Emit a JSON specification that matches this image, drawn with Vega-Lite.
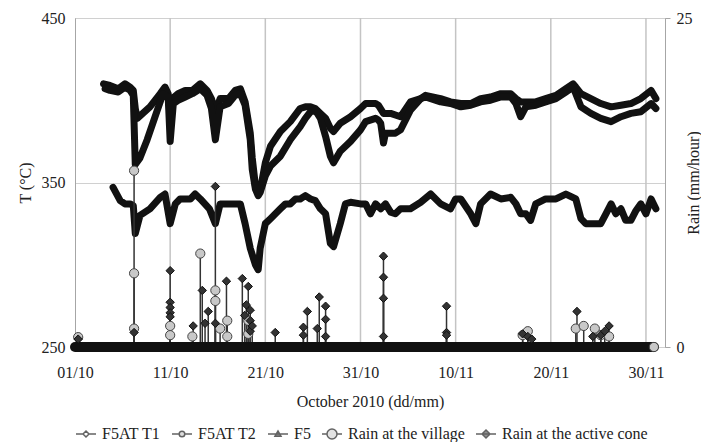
{
  "$schema": "https://vega.github.io/schema/vega-lite/v6.json",
  "width": 590,
  "height": 329,
  "padding": {"left": 17, "top": 10, "right": 0, "bottom": 0},
  "background": "white",
  "config": {
    "font": "Liberation Serif",
    "view": {"stroke": "#a6a6a6", "strokeWidth": 1},
    "axis": {
      "labelFont": "Liberation Serif", "labelFontSize": 16, "labelColor": "#222",
      "titleFont": "Liberation Serif", "titleFontSize": 16, "titleFontWeight": "normal", "titleColor": "#222",
      "gridColor": "#d0d0d0", "gridOpacity": 1, "domainColor": "#a6a6a6", "tickColor": "#a6a6a6"
    },
    "axisX": {"grid": false, "labelFlush": false},
    "legend": {
      "labelFont": "Liberation Serif", "labelFontSize": 16, "labelColor": "#222",
      "symbolSize": 400, "columnPadding": 8, "labelOffset": 5, "offset": 14
    }
  },
  "datasets": {
    "gridx": [{"tk":"2010-10-11T00:00","lo":250,"hi":450},{"tk":"2010-10-21T00:00","lo":250,"hi":450},{"tk":"2010-10-31T00:00","lo":250,"hi":450},{"tk":"2010-11-10T00:00","lo":250,"hi":450},{"tk":"2010-11-20T00:00","lo":250,"hi":450},{"tk":"2010-11-30T00:00","lo":250,"hi":450}],
    "temp": [
      {"d":"2010-10-04T00:00","s":"F5AT T1","t":410},{"d":"2010-10-04T16:00","s":"F5AT T1","t":409},{"d":"2010-10-05T13:00","s":"F5AT T1","t":407},{"d":"2010-10-06T06:00","s":"F5AT T1","t":410},{"d":"2010-10-06T19:00","s":"F5AT T1","t":408},{"d":"2010-10-07T03:00","s":"F5AT T1","t":406},{"d":"2010-10-07T08:00","s":"F5AT T1","t":395},{"d":"2010-10-07T13:00","s":"F5AT T1","t":389},{"d":"2010-10-08T21:00","s":"F5AT T1","t":396},{"d":"2010-10-09T23:00","s":"F5AT T1","t":404},{"d":"2010-10-10T11:00","s":"F5AT T1","t":408},{"d":"2010-10-10T19:00","s":"F5AT T1","t":404},{"d":"2010-10-11T00:00","s":"F5AT T1","t":389},{"d":"2010-10-11T05:00","s":"F5AT T1","t":401},{"d":"2010-10-11T20:00","s":"F5AT T1","t":404},{"d":"2010-10-12T14:00","s":"F5AT T1","t":406},{"d":"2010-10-13T08:00","s":"F5AT T1","t":406},{"d":"2010-10-14T04:00","s":"F5AT T1","t":410},{"d":"2010-10-14T21:00","s":"F5AT T1","t":406},{"d":"2010-10-15T08:00","s":"F5AT T1","t":401},{"d":"2010-10-15T18:00","s":"F5AT T1","t":393},{"d":"2010-10-16T06:00","s":"F5AT T1","t":401},{"d":"2010-10-17T03:00","s":"F5AT T1","t":401},{"d":"2010-10-17T20:00","s":"F5AT T1","t":406},{"d":"2010-10-18T09:00","s":"F5AT T1","t":407},{"d":"2010-10-18T21:00","s":"F5AT T1","t":399},{"d":"2010-10-19T10:00","s":"F5AT T1","t":380},{"d":"2010-10-19T15:00","s":"F5AT T1","t":365},{"d":"2010-10-19T23:00","s":"F5AT T1","t":348},{"d":"2010-10-20T06:00","s":"F5AT T1","t":343},{"d":"2010-10-20T11:00","s":"F5AT T1","t":345},{"d":"2010-10-21T00:00","s":"F5AT T1","t":362},{"d":"2010-10-21T13:00","s":"F5AT T1","t":372},{"d":"2010-10-22T14:00","s":"F5AT T1","t":381},{"d":"2010-10-23T15:00","s":"F5AT T1","t":387},{"d":"2010-10-24T16:00","s":"F5AT T1","t":395},{"d":"2010-10-25T05:00","s":"F5AT T1","t":396},{"d":"2010-10-25T18:00","s":"F5AT T1","t":396},{"d":"2010-10-26T06:00","s":"F5AT T1","t":395},{"d":"2010-10-26T19:00","s":"F5AT T1","t":392},{"d":"2010-10-27T08:00","s":"F5AT T1","t":389},{"d":"2010-10-27T20:00","s":"F5AT T1","t":383},{"d":"2010-10-28T04:00","s":"F5AT T1","t":381},{"d":"2010-10-28T21:00","s":"F5AT T1","t":386},{"d":"2010-10-29T23:00","s":"F5AT T1","t":390},{"d":"2010-10-31T00:00","s":"F5AT T1","t":395},{"d":"2010-10-31T13:00","s":"F5AT T1","t":398},{"d":"2010-11-01T14:00","s":"F5AT T1","t":398},{"d":"2010-11-01T21:00","s":"F5AT T1","t":397},{"d":"2010-11-02T10:00","s":"F5AT T1","t":392},{"d":"2010-11-03T04:00","s":"F5AT T1","t":392},{"d":"2010-11-04T05:00","s":"F5AT T1","t":390},{"d":"2010-11-05T06:00","s":"F5AT T1","t":399},{"d":"2010-11-06T08:00","s":"F5AT T1","t":401},{"d":"2010-11-06T20:00","s":"F5AT T1","t":403},{"d":"2010-11-08T10:00","s":"F5AT T1","t":401},{"d":"2010-11-09T11:00","s":"F5AT T1","t":399},{"d":"2010-11-10T13:00","s":"F5AT T1","t":398},{"d":"2010-11-11T14:00","s":"F5AT T1","t":398},{"d":"2010-11-12T15:00","s":"F5AT T1","t":401},{"d":"2010-11-13T16:00","s":"F5AT T1","t":402},{"d":"2010-11-14T18:00","s":"F5AT T1","t":404},{"d":"2010-11-15T19:00","s":"F5AT T1","t":404},{"d":"2010-11-16T08:00","s":"F5AT T1","t":401},{"d":"2010-11-16T20:00","s":"F5AT T1","t":399},{"d":"2010-11-17T09:00","s":"F5AT T1","t":399},{"d":"2010-11-18T10:00","s":"F5AT T1","t":399},{"d":"2010-11-19T11:00","s":"F5AT T1","t":401},{"d":"2010-11-20T13:00","s":"F5AT T1","t":403},{"d":"2010-11-21T14:00","s":"F5AT T1","t":407},{"d":"2010-11-22T08:00","s":"F5AT T1","t":410},{"d":"2010-11-22T15:00","s":"F5AT T1","t":408},{"d":"2010-11-23T04:00","s":"F5AT T1","t":404},{"d":"2010-11-24T05:00","s":"F5AT T1","t":401},{"d":"2010-11-25T06:00","s":"F5AT T1","t":398},{"d":"2010-11-26T08:00","s":"F5AT T1","t":396},{"d":"2010-11-27T09:00","s":"F5AT T1","t":397},{"d":"2010-11-28T10:00","s":"F5AT T1","t":398},{"d":"2010-11-29T11:00","s":"F5AT T1","t":401},{"d":"2010-11-30T13:00","s":"F5AT T1","t":406},{"d":"2010-12-01T01:00","s":"F5AT T1","t":401},
      {"d":"2010-10-04T04:00","s":"F5AT T2","t":407},{"d":"2010-10-04T16:00","s":"F5AT T2","t":406},{"d":"2010-10-05T13:00","s":"F5AT T2","t":405},{"d":"2010-10-06T06:00","s":"F5AT T2","t":408},{"d":"2010-10-06T19:00","s":"F5AT T2","t":406},{"d":"2010-10-07T03:00","s":"F5AT T2","t":403},{"d":"2010-10-07T08:00","s":"F5AT T2","t":361},{"d":"2010-10-07T20:00","s":"F5AT T2","t":365},{"d":"2010-10-08T14:00","s":"F5AT T2","t":376},{"d":"2010-10-09T10:00","s":"F5AT T2","t":390},{"d":"2010-10-10T06:00","s":"F5AT T2","t":404},{"d":"2010-10-10T19:00","s":"F5AT T2","t":402},{"d":"2010-10-11T00:00","s":"F5AT T2","t":375},{"d":"2010-10-11T08:00","s":"F5AT T2","t":398},{"d":"2010-10-11T20:00","s":"F5AT T2","t":400},{"d":"2010-10-12T14:00","s":"F5AT T2","t":402},{"d":"2010-10-13T08:00","s":"F5AT T2","t":404},{"d":"2010-10-14T04:00","s":"F5AT T2","t":407},{"d":"2010-10-14T21:00","s":"F5AT T2","t":403},{"d":"2010-10-15T08:00","s":"F5AT T2","t":395},{"d":"2010-10-15T18:00","s":"F5AT T2","t":376},{"d":"2010-10-16T06:00","s":"F5AT T2","t":396},{"d":"2010-10-17T03:00","s":"F5AT T2","t":398},{"d":"2010-10-17T20:00","s":"F5AT T2","t":403},{"d":"2010-10-18T09:00","s":"F5AT T2","t":404},{"d":"2010-10-18T21:00","s":"F5AT T2","t":397},{"d":"2010-10-19T10:00","s":"F5AT T2","t":376},{"d":"2010-10-19T15:00","s":"F5AT T2","t":358},{"d":"2010-10-19T23:00","s":"F5AT T2","t":346},{"d":"2010-10-20T06:00","s":"F5AT T2","t":342},{"d":"2010-10-20T11:00","s":"F5AT T2","t":344},{"d":"2010-10-21T00:00","s":"F5AT T2","t":354},{"d":"2010-10-21T13:00","s":"F5AT T2","t":360},{"d":"2010-10-22T14:00","s":"F5AT T2","t":366},{"d":"2010-10-23T15:00","s":"F5AT T2","t":376},{"d":"2010-10-24T16:00","s":"F5AT T2","t":384},{"d":"2010-10-25T05:00","s":"F5AT T2","t":389},{"d":"2010-10-25T18:00","s":"F5AT T2","t":393},{"d":"2010-10-26T06:00","s":"F5AT T2","t":394},{"d":"2010-10-26T19:00","s":"F5AT T2","t":389},{"d":"2010-10-27T08:00","s":"F5AT T2","t":378},{"d":"2010-10-27T20:00","s":"F5AT T2","t":366},{"d":"2010-10-28T04:00","s":"F5AT T2","t":362},{"d":"2010-10-28T21:00","s":"F5AT T2","t":369},{"d":"2010-10-29T23:00","s":"F5AT T2","t":375},{"d":"2010-10-31T00:00","s":"F5AT T2","t":382},{"d":"2010-10-31T13:00","s":"F5AT T2","t":387},{"d":"2010-11-01T14:00","s":"F5AT T2","t":389},{"d":"2010-11-01T21:00","s":"F5AT T2","t":388},{"d":"2010-11-02T03:00","s":"F5AT T2","t":386},{"d":"2010-11-02T10:00","s":"F5AT T2","t":374},{"d":"2010-11-02T15:00","s":"F5AT T2","t":380},{"d":"2010-11-03T04:00","s":"F5AT T2","t":380},{"d":"2010-11-03T16:00","s":"F5AT T2","t":380},{"d":"2010-11-04T05:00","s":"F5AT T2","t":382},{"d":"2010-11-05T06:00","s":"F5AT T2","t":394},{"d":"2010-11-06T08:00","s":"F5AT T2","t":401},{"d":"2010-11-06T20:00","s":"F5AT T2","t":402},{"d":"2010-11-08T10:00","s":"F5AT T2","t":399},{"d":"2010-11-09T11:00","s":"F5AT T2","t":398},{"d":"2010-11-10T13:00","s":"F5AT T2","t":396},{"d":"2010-11-11T14:00","s":"F5AT T2","t":397},{"d":"2010-11-12T15:00","s":"F5AT T2","t":399},{"d":"2010-11-13T16:00","s":"F5AT T2","t":400},{"d":"2010-11-14T18:00","s":"F5AT T2","t":402},{"d":"2010-11-15T19:00","s":"F5AT T2","t":402},{"d":"2010-11-16T08:00","s":"F5AT T2","t":398},{"d":"2010-11-16T20:00","s":"F5AT T2","t":390},{"d":"2010-11-17T09:00","s":"F5AT T2","t":396},{"d":"2010-11-18T10:00","s":"F5AT T2","t":397},{"d":"2010-11-19T11:00","s":"F5AT T2","t":399},{"d":"2010-11-20T13:00","s":"F5AT T2","t":401},{"d":"2010-11-21T14:00","s":"F5AT T2","t":405},{"d":"2010-11-22T08:00","s":"F5AT T2","t":408},{"d":"2010-11-22T15:00","s":"F5AT T2","t":404},{"d":"2010-11-23T04:00","s":"F5AT T2","t":396},{"d":"2010-11-24T05:00","s":"F5AT T2","t":392},{"d":"2010-11-25T06:00","s":"F5AT T2","t":389},{"d":"2010-11-26T08:00","s":"F5AT T2","t":387},{"d":"2010-11-27T09:00","s":"F5AT T2","t":390},{"d":"2010-11-28T10:00","s":"F5AT T2","t":392},{"d":"2010-11-29T11:00","s":"F5AT T2","t":393},{"d":"2010-11-30T13:00","s":"F5AT T2","t":398},{"d":"2010-12-01T01:00","s":"F5AT T2","t":395},
      {"d":"2010-10-05T00:00","s":"F5","t":347},{"d":"2010-10-05T18:00","s":"F5","t":339},{"d":"2010-10-06T06:00","s":"F5","t":337},{"d":"2010-10-06T19:00","s":"F5","t":337},{"d":"2010-10-07T03:00","s":"F5","t":336},{"d":"2010-10-07T08:00","s":"F5","t":319},{"d":"2010-10-07T20:00","s":"F5","t":330},{"d":"2010-10-08T21:00","s":"F5","t":334},{"d":"2010-10-09T23:00","s":"F5","t":341},{"d":"2010-10-10T11:00","s":"F5","t":343},{"d":"2010-10-11T00:00","s":"F5","t":325},{"d":"2010-10-11T13:00","s":"F5","t":337},{"d":"2010-10-12T01:00","s":"F5","t":340},{"d":"2010-10-13T03:00","s":"F5","t":340},{"d":"2010-10-13T15:00","s":"F5","t":343},{"d":"2010-10-14T04:00","s":"F5","t":340},{"d":"2010-10-15T03:00","s":"F5","t":334},{"d":"2010-10-15T18:00","s":"F5","t":325},{"d":"2010-10-16T06:00","s":"F5","t":337},{"d":"2010-10-17T08:00","s":"F5","t":337},{"d":"2010-10-18T09:00","s":"F5","t":337},{"d":"2010-10-18T21:00","s":"F5","t":325},{"d":"2010-10-19T10:00","s":"F5","t":310},{"d":"2010-10-19T23:00","s":"F5","t":300},{"d":"2010-10-20T06:00","s":"F5","t":297},{"d":"2010-10-20T11:00","s":"F5","t":310},{"d":"2010-10-21T00:00","s":"F5","t":325},{"d":"2010-10-21T13:00","s":"F5","t":328},{"d":"2010-10-22T14:00","s":"F5","t":334},{"d":"2010-10-23T03:00","s":"F5","t":337},{"d":"2010-10-23T15:00","s":"F5","t":337},{"d":"2010-10-24T04:00","s":"F5","t":340},{"d":"2010-10-24T16:00","s":"F5","t":340},{"d":"2010-10-25T05:00","s":"F5","t":342},{"d":"2010-10-25T18:00","s":"F5","t":340},{"d":"2010-10-26T06:00","s":"F5","t":339},{"d":"2010-10-26T19:00","s":"F5","t":334},{"d":"2010-10-27T08:00","s":"F5","t":331},{"d":"2010-10-27T20:00","s":"F5","t":313},{"d":"2010-10-28T04:00","s":"F5","t":311},{"d":"2010-10-28T21:00","s":"F5","t":325},{"d":"2010-10-29T10:00","s":"F5","t":337},{"d":"2010-10-29T23:00","s":"F5","t":338},{"d":"2010-10-31T00:00","s":"F5","t":337},{"d":"2010-10-31T13:00","s":"F5","t":337},{"d":"2010-11-01T01:00","s":"F5","t":331},{"d":"2010-11-01T14:00","s":"F5","t":337},{"d":"2010-11-02T03:00","s":"F5","t":334},{"d":"2010-11-02T15:00","s":"F5","t":337},{"d":"2010-11-03T04:00","s":"F5","t":332},{"d":"2010-11-03T16:00","s":"F5","t":331},{"d":"2010-11-04T05:00","s":"F5","t":334},{"d":"2010-11-05T06:00","s":"F5","t":334},{"d":"2010-11-06T08:00","s":"F5","t":338},{"d":"2010-11-07T09:00","s":"F5","t":343},{"d":"2010-11-08T10:00","s":"F5","t":337},{"d":"2010-11-09T11:00","s":"F5","t":334},{"d":"2010-11-10T00:00","s":"F5","t":340},{"d":"2010-11-10T13:00","s":"F5","t":340},{"d":"2010-11-11T14:00","s":"F5","t":331},{"d":"2010-11-12T03:00","s":"F5","t":325},{"d":"2010-11-12T15:00","s":"F5","t":337},{"d":"2010-11-13T16:00","s":"F5","t":343},{"d":"2010-11-14T18:00","s":"F5","t":340},{"d":"2010-11-15T19:00","s":"F5","t":341},{"d":"2010-11-16T08:00","s":"F5","t":337},{"d":"2010-11-16T20:00","s":"F5","t":331},{"d":"2010-11-17T09:00","s":"F5","t":331},{"d":"2010-11-17T21:00","s":"F5","t":327},{"d":"2010-11-18T10:00","s":"F5","t":337},{"d":"2010-11-19T11:00","s":"F5","t":340},{"d":"2010-11-20T13:00","s":"F5","t":340},{"d":"2010-11-21T14:00","s":"F5","t":343},{"d":"2010-11-22T15:00","s":"F5","t":340},{"d":"2010-11-23T04:00","s":"F5","t":328},{"d":"2010-11-23T16:00","s":"F5","t":325},{"d":"2010-11-25T06:00","s":"F5","t":325},{"d":"2010-11-25T19:00","s":"F5","t":331},{"d":"2010-11-26T08:00","s":"F5","t":337},{"d":"2010-11-26T20:00","s":"F5","t":331},{"d":"2010-11-27T09:00","s":"F5","t":334},{"d":"2010-11-27T21:00","s":"F5","t":327},{"d":"2010-11-28T10:00","s":"F5","t":327},{"d":"2010-11-28T23:00","s":"F5","t":333},{"d":"2010-11-29T11:00","s":"F5","t":337},{"d":"2010-11-30T00:00","s":"F5","t":331},{"d":"2010-11-30T13:00","s":"F5","t":340},{"d":"2010-12-01T01:00","s":"F5","t":334}
    ],
    "rain": [
      {"d":"2010-10-01T08:00","s":"v","v":0.75},{"d":"2010-10-07T05:00","s":"v","v":13.4},{"d":"2010-10-07T05:00","s":"v","v":5.6},{"d":"2010-10-07T05:00","s":"v","v":1.4},{"d":"2010-10-11T00:00","s":"v","v":1.6},{"d":"2010-10-11T00:00","s":"v","v":0.9},{"d":"2010-10-13T08:00","s":"v","v":0.8},{"d":"2010-10-14T04:00","s":"v","v":7.1},{"d":"2010-10-15T18:00","s":"v","v":4.3},{"d":"2010-10-15T18:00","s":"v","v":3.5},{"d":"2010-10-16T06:00","s":"v","v":1.4},{"d":"2010-10-17T00:00","s":"v","v":2.0},{"d":"2010-10-17T00:00","s":"v","v":0.8},{"d":"2010-10-19T05:00","s":"v","v":2.0},{"d":"2010-10-19T05:00","s":"v","v":1.0},{"d":"2010-11-17T01:00","s":"v","v":0.9},{"d":"2010-11-17T14:00","s":"v","v":1.2},{"d":"2010-11-22T15:00","s":"v","v":1.4},{"d":"2010-11-23T11:00","s":"v","v":1.6},{"d":"2010-11-24T15:00","s":"v","v":1.4},{"d":"2010-11-25T06:00","s":"v","v":0.9},{"d":"2010-11-26T03:00","s":"v","v":0.8},{"d":"2010-11-30T20:00","s":"v","v":0},
      {"d":"2010-10-01T08:00","s":"c","v":0.6},{"d":"2010-10-07T05:00","s":"c","v":1.1},{"d":"2010-10-11T00:00","s":"c","v":5.8},{"d":"2010-10-11T00:00","s":"c","v":3.4},{"d":"2010-10-11T00:00","s":"c","v":3.0},{"d":"2010-10-11T00:00","s":"c","v":2.6},{"d":"2010-10-11T00:00","s":"c","v":2.3},{"d":"2010-10-13T10:00","s":"c","v":1.6},{"d":"2010-10-14T09:00","s":"c","v":4.3},{"d":"2010-10-14T16:00","s":"c","v":1.8},{"d":"2010-10-15T00:00","s":"c","v":2.7},{"d":"2010-10-15T18:00","s":"c","v":12.2},{"d":"2010-10-15T18:00","s":"c","v":1.8},{"d":"2010-10-16T22:00","s":"c","v":5.0},{"d":"2010-10-18T14:00","s":"c","v":5.2},{"d":"2010-10-18T20:00","s":"c","v":2.4},{"d":"2010-10-19T00:00","s":"c","v":3.2},{"d":"2010-10-19T05:00","s":"c","v":4.6},{"d":"2010-10-19T10:00","s":"c","v":2.8},{"d":"2010-10-19T10:00","s":"c","v":2.0},{"d":"2010-10-19T10:00","s":"c","v":1.2},{"d":"2010-10-19T15:00","s":"c","v":1.6},{"d":"2010-10-22T01:00","s":"c","v":1.1},{"d":"2010-10-25T00:00","s":"c","v":1.5},{"d":"2010-10-25T00:00","s":"c","v":0.9},{"d":"2010-10-25T10:00","s":"c","v":2.7},{"d":"2010-10-26T11:00","s":"c","v":1.4},{"d":"2010-10-26T16:00","s":"c","v":3.8},{"d":"2010-10-27T08:00","s":"c","v":3.1},{"d":"2010-10-27T08:00","s":"c","v":2.1},{"d":"2010-10-27T08:00","s":"c","v":0.8},{"d":"2010-11-02T10:00","s":"c","v":6.9},{"d":"2010-11-02T10:00","s":"c","v":5.3},{"d":"2010-11-02T10:00","s":"c","v":3.7},{"d":"2010-11-02T10:00","s":"c","v":0.8},{"d":"2010-11-09T01:00","s":"c","v":3.1},{"d":"2010-11-09T01:00","s":"c","v":1.1},{"d":"2010-11-09T01:00","s":"c","v":0.9},{"d":"2010-11-17T01:00","s":"c","v":1.0},{"d":"2010-11-17T14:00","s":"c","v":0.8},{"d":"2010-11-18T00:00","s":"c","v":0.6},{"d":"2010-11-22T18:00","s":"c","v":2.7},{"d":"2010-11-24T10:00","s":"c","v":0.8},{"d":"2010-11-25T06:00","s":"c","v":0.9},{"d":"2010-11-25T16:00","s":"c","v":1.2},{"d":"2010-11-26T03:00","s":"c","v":1.6}
    ],
    "base": [{"a":"2010-10-01T00:00","b":"2010-11-30T20:00","v":0}]
  },
  "layer": [
    {
      "encoding": {
        "x": {"field": "d", "type": "temporal", "title": "October 2010 (dd/mm)",
          "scale": {"domain": [{"year":2010,"month":10,"date":1},{"year":2010,"month":12,"date":2}]},
          "axis": {"values": [{"year":2010,"month":10,"date":1},{"year":2010,"month":10,"date":11},{"year":2010,"month":10,"date":21},{"year":2010,"month":10,"date":31},{"year":2010,"month":11,"date":10},{"year":2010,"month":11,"date":20},{"year":2010,"month":11,"date":30}],
            "format": "%d/%m", "grid": false, "labelFlush": false, "ticks": false, "domain": false, "labelPadding": 17, "titlePadding": 13}},
        "y": {"field": "t", "type": "quantitative", "title": "T (°C)",
          "scale": {"domain": [250, 450], "nice": false},
          "axis": {"values": [250, 350, 450], "grid": true, "ticks": false, "labelPadding": 10, "titlePadding": 8}}
      },
      "layer": [
        {
          "data": {"name": "gridx"},
          "mark": {"type": "rule", "color": "#c4c4c4", "strokeWidth": 1.5},
          "encoding": {
            "x": {"field": "tk", "type": "temporal", "title": "October 2010 (dd/mm)"},
            "y": {"field": "lo", "type": "quantitative", "title": "T (°C)"},
            "y2": {"field": "hi"}
          }
        },
        {
          "data": {"name": "temp"},
          "mark": {"type": "point", "filled": true, "size": 4, "stroke": "#222", "strokeWidth": 1.2},
          "encoding": {
            "shape": {"field": "s", "type": "nominal",
              "scale": {"domain": ["F5AT T1","F5AT T2","F5","Rain at the village","Rain at the active cone"],
                "range": ["M-1,0H-0.3M0.3,0H1M0,-0.3L0.3,0L0,0.3L-0.3,0Z","M-1,0H-0.28M0.28,0H1M0.28,0A0.28,0.28 0 1 1 -0.28,0A0.28,0.28 0 1 1 0.28,0Z","M-1,0H1M-0.3,0.22L0,-0.3L0.3,0.22Z","M-1,0H-0.5M0.5,0H1M0.5,0A0.5,0.5 0 1 1 -0.5,0A0.5,0.5 0 1 1 0.5,0Z","M-1,0H1M0,-0.4L0.4,0L0,0.4L-0.4,0Z"]},
              "legend": {"title": null, "orient": "bottom", "direction": "horizontal", "columns": 5, "symbolSize": 400,
                "encode": {"symbols": {"update": {"stroke": {"value": "#222"}, "strokeWidth": {"value": 1.2}, "opacity": {"value": 1}}}}}},
            "fill": {"field": "s", "type": "nominal",
              "scale": {"domain": ["F5AT T1","F5AT T2","F5","Rain at the village","Rain at the active cone"],
                "range": ["#ffffff","#bbbbbb","#222222","#c8c8c8","#222222"]},
              "legend": {"title": null, "orient": "bottom", "direction": "horizontal", "columns": 5, "symbolSize": 400,
                "encode": {"symbols": {"update": {"stroke": {"value": "#222"}, "strokeWidth": {"value": 1.2}, "opacity": {"value": 1}}}}}}
          }
        },
        {
          "data": {"name": "temp"},
          "mark": {"type": "line", "color": "#111", "strokeWidth": 7, "strokeJoin": "round", "strokeCap": "round"},
          "encoding": {"detail": {"field": "s"}}
        }
      ]
    },
    {
      "encoding": {
        "x": {"field": "d", "type": "temporal", "title": "October 2010 (dd/mm)",
          "scale": {"domain": [{"year":2010,"month":10,"date":1},{"year":2010,"month":12,"date":2}]},
          "axis": {"values": [{"year":2010,"month":10,"date":1},{"year":2010,"month":10,"date":11},{"year":2010,"month":10,"date":21},{"year":2010,"month":10,"date":31},{"year":2010,"month":11,"date":10},{"year":2010,"month":11,"date":20},{"year":2010,"month":11,"date":30}],
            "format": "%d/%m", "grid": false, "labelFlush": false, "ticks": false, "domain": false, "labelPadding": 17, "titlePadding": 13}},
        "y": {"field": "v", "type": "quantitative", "title": "Rain (mm/hour)",
          "scale": {"domain": [0, 25], "nice": false},
          "axis": {"orient": "right", "values": [0, 25], "grid": false, "ticks": true, "tickSize": 5, "labelPadding": 6, "titlePadding": 9, "titleAngle": 270}}
      },
      "layer": [
        {
          "data": {"name": "rain"},
          "mark": {"type": "rule", "color": "#333", "strokeWidth": 1.5},
          "encoding": {"y2": {"datum": 0}}
        },
        {
          "data": {"name": "base"},
          "mark": {"type": "rule", "color": "#111", "strokeWidth": 10, "strokeCap": "round"},
          "encoding": {
            "x": {"field": "a", "type": "temporal", "title": "October 2010 (dd/mm)"},
            "x2": {"field": "b"}
          }
        },
        {
          "data": {"name": "rain"},
          "transform": [{"filter": "datum.s == 'v'"}],
          "mark": {"type": "point", "shape": "circle", "filled": true, "size": 85, "fill": "#c8c8c8", "stroke": "#444", "strokeWidth": 1, "opacity": 1}
        },
        {
          "data": {"name": "rain"},
          "transform": [{"filter": "datum.s == 'c'"}],
          "mark": {"type": "point", "shape": "diamond", "filled": true, "size": 70, "fill": "#333", "stroke": "#111", "strokeWidth": 1, "opacity": 1}
        }
      ]
    }
  ],
  "resolve": {"scale": {"y": "independent"}}
}
